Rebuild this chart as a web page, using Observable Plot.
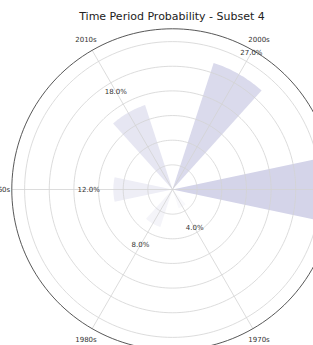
<!DOCTYPE html>
<html>
<head>
<meta charset="utf-8">
<script src="https://cdn.jsdelivr.net/npm/d3@7"></script>
<script src="https://cdn.jsdelivr.net/npm/@observablehq/plot@0.6"></script>
<style>
  html, body { margin: 0; padding: 0; background: #fff; overflow: hidden; }
  #wrap { width: 313px; height: 345px; position: relative; overflow: hidden; }
  #title { position: absolute; left: 0; top: 0; width: 344px; height: 28px; text-align: center;
           font-family: "DejaVu Sans", sans-serif; font-size: 11px; line-height: 34px; color: #222; white-space: nowrap; }
  #chart { position: absolute; left: 0; top: 28px; }
</style>
</head>
<body>
<div id="wrap">
  <div id="title">Time Period Probability - Subset 4</div>
  <div id="chart"></div>
</div>
<script>
// Data
const categories = ["1990s", "2000s", "2010s", "1960s", "1980s", "1970s"];
const probabilities = [31, 27, 18, 12, 8, 4]; // percent
const ringValues = [5, 10, 15, 20, 25, 30];
const rMax = 32.6;

const pxPerUnit = 4.93;
const W = 313, H = 317;
const cx = 172, cy = 161; // center in svg px
const deg = Math.PI / 180;
const stepAngle = 360 / categories.length;
const barWidth = 24;
const xDomain = [-cx / pxPerUnit, (W - cx) / pxPerUnit];

const polar = (r, a) => [r * Math.cos(a * deg), r * Math.sin(a * deg)];

// bars as polygons
const barPts = [];
categories.forEach((c, i) => {
  const a0 = i * stepAngle - barWidth / 2, a1 = i * stepAngle + barWidth / 2;
  const r = probabilities[i];
  barPts.push({cat: c, v: r, x: 0, y: 0});
  for (let k = 0; k <= 24; k++) {
    const a = a0 + (a1 - a0) * k / 24;
    const [x, y] = polar(r, a);
    barPts.push({cat: c, v: r, x, y});
  }
  barPts.push({cat: c, v: r, x: 0, y: 0});
});

const circlePts = (r, id) => d3.range(0, 361, 2).map(a => {
  const [x, y] = polar(r, a);
  return {id, x, y};
});
const rings = ringValues.flatMap(r => circlePts(r, r));
const outer = circlePts(rMax, "outer");

const spokes = categories.flatMap((c, i) => {
  const [x, y] = polar(rMax, i * stepAngle);
  return [{cat: c, x: 0, y: 0}, {cat: c, x, y}];
});

// labels whose anchor lies outside the visible frame are not drawn (they are cropped away in the reference)
const inFrame = d => d.x < xDomain[1];
const catLabels = categories.map((c, i) => {
  const [x, y] = polar(rMax + 2.5, i * stepAngle);
  return {text: c, x, y};
}).filter(inFrame);
const valLabels = categories.map((c, i) => {
  const [x, y] = polar(probabilities[i] + 5, i * stepAngle);
  return {text: d3.format(".1f")(probabilities[i]) + "%", x, y};
}).filter(inFrame);

const chart = Plot.plot({
  width: W, height: H, margin: 0,
  style: {fontFamily: "DejaVu Sans, sans-serif", background: "transparent"},
  x: {domain: xDomain, axis: null},
  y: {domain: [-(H - cy) / pxPerUnit, cy / pxPerUnit], axis: null},
  color: {type: "linear", domain: [0, 31], range: ["#ffffff", "#d4d4e9"]},
  marks: [
    Plot.line(barPts, {x: "x", y: "y", z: "cat", fill: "v", stroke: "none", curve: "linear"}),
    Plot.line(rings, {x: "x", y: "y", z: "id", stroke: "#d3d3d3", strokeWidth: 0.8}),
    Plot.line(spokes, {x: "x", y: "y", z: "cat", stroke: "#d3d3d3", strokeWidth: 0.8}),
    Plot.line(outer, {x: "x", y: "y", stroke: "#444", strokeWidth: 0.9}),
    Plot.text(catLabels, {x: "x", y: "y", text: "text", fontSize: 7, fill: "#333"}),
    Plot.text(valLabels, {x: "x", y: "y", text: "text", fontSize: 7, fill: "#333"})
  ]
});
document.getElementById("chart").appendChild(chart);
</script>
</body>
</html>
